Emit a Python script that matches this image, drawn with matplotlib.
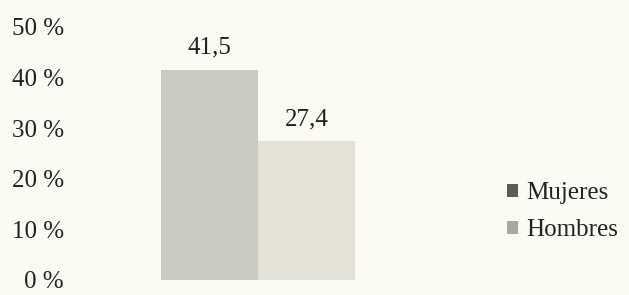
import matplotlib.pyplot as plt
from matplotlib.patches import Patch

categorias = ['Mujeres', 'Hombres']
valores = [41.5, 27.4]
etiquetas = ['41,5', '27,4']
ticks = [0, 10, 20, 30, 40, 50]
tick_labels = ['0 %', '10 %', '20 %', '30 %', '40 %', '50 %']

bg = '#fbfbf4'
colores_barra = ['#cbcac1', '#e3e2d5']
colores_leyenda = ['#5c5c57', '#a9a9a1']

plt.rcParams['font.family'] = ['Liberation Serif', 'DejaVu Serif']

fig = plt.figure(figsize=(6.29, 2.95), dpi=100, facecolor=bg)
ax = fig.add_axes([141.6 / 629, 15 / 295, 233 / 629, 253 / 295], facecolor=bg)

x = [0, 1]
ax.bar(x, valores, width=1.0, color=colores_barra, edgecolor='none')
for xi, v, t in zip(x, valores, etiquetas):
    ax.annotate(t, (xi, v), xytext=(0, 8), textcoords='offset points',
                ha='center', va='bottom', fontsize=18, color='#222222')

ax.set_xlim(-0.7, 1.7)
ax.set_ylim(0, 50)
ax.set_xticks([])
ax.set_yticks(ticks)
ax.set_yticklabels(tick_labels, fontsize=18, color='#222222')
ax.tick_params(axis='y', length=0, pad=56)
for s in ax.spines.values():
    s.set_visible(False)

handles = [Patch(facecolor=c, edgecolor='none', hatch='....') for c in colores_leyenda]
fig.legend(handles, categorias, loc='center left', bbox_to_anchor=(484 / 629, 1 - 212 / 295),
           frameon=False, fontsize=18, handlelength=0.45, handleheight=0.45,
           handletextpad=0.35, labelspacing=0.6, labelcolor='#222222')

fig.savefig('out.png', dpi=100, facecolor=bg)
